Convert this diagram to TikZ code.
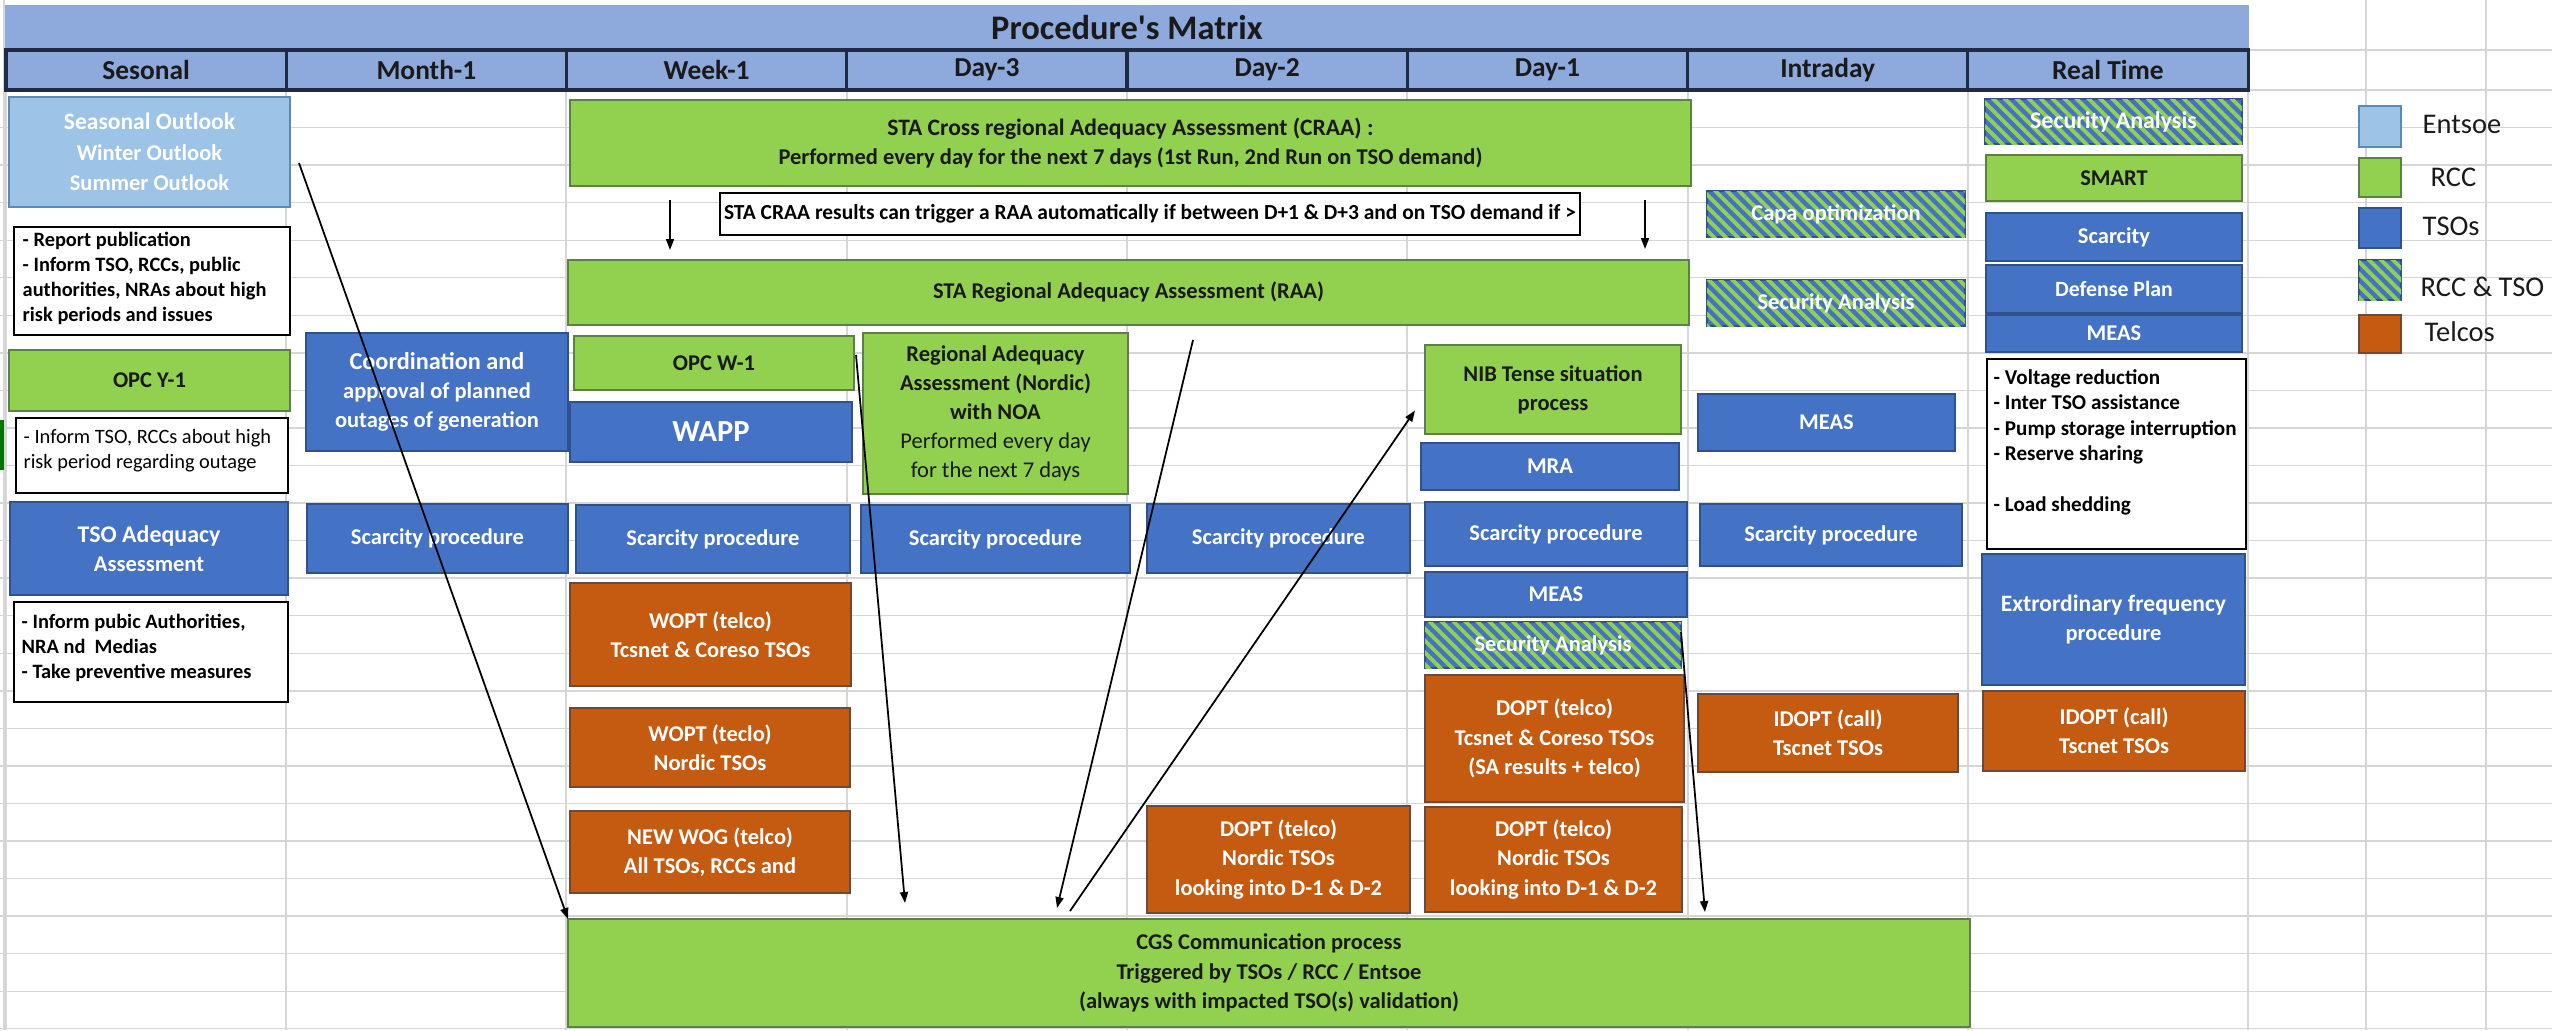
\documentclass[tikz,border=0pt]{standalone}
\usepackage{fontspec}
\setmainfont{Carlito}
\usetikzlibrary{calc,arrows.meta,patterns.meta}

\definecolor{bandblue}{HTML}{8EA9DB}
\definecolor{bandline}{HTML}{1F2A44}
\definecolor{gridgrey}{HTML}{D6D6D6}
\definecolor{entsoefill}{HTML}{9DC3E6}
\definecolor{entsoeedge}{HTML}{5A8AB8}
\definecolor{rccfill}{HTML}{92D050}
\definecolor{rccedge}{HTML}{5E7F45}
\definecolor{tsofill}{HTML}{4472C4}
\definecolor{tsoedge}{HTML}{2F528F}
\definecolor{telcofill}{HTML}{C55A11}
\definecolor{telcoedge}{HTML}{6E4A36}
\definecolor{inktext}{HTML}{1A1A1A}

\newcommand\procfont{\bfseries\fontsize{6.4}{8.3}\selectfont}
\newcommand\memofont{\bfseries\fontsize{5.8}{7.1}\selectfont}
\newcommand\sz[1]{\fontsize{#1}{8.3}\selectfont}

% #1 style, #2 name, #3 left, #4 top, #5 right, #6 bottom, #7 text
\newcommand\procbox[7]{%
  \node[#1, minimum width={(#5-#3)*0.01cm}, minimum height={(#6-#4)*0.01cm}]
    (#2) at ({(#3+#5)/2},{(#4+#6)/2}) {#7};}

\tikzset{
  base/.style={rectangle, inner sep=0pt, outer sep=0pt, align=center, line width=0.5pt, font=\procfont},
  entsoe/.style={base, fill=entsoefill, draw=entsoeedge, text=white},
  rcc/.style={base, fill=rccfill, draw=rccedge, text=inktext},
  tso/.style={base, fill=tsofill, draw=tsoedge, text=white},
  telco/.style={base, fill=telcofill, draw=telcoedge, text=white},
  shared/.style={base, fill=tsofill, draw=tsoedge, text=white,
    postaction={pattern={Lines[angle=-45,distance=2.4pt,line width=1.1pt]}, pattern color=rccfill}},
  memo/.style={base, fill=white, draw=black, line width=0.7pt, font=\memofont, text=black},
  memotext/.style={inner sep=0pt, align=left, font=\memofont, text=black, anchor=west},
  keylabel/.style={inner sep=0pt, anchor=west, text=inktext, font=\fontsize{8.1}{9}\selectfont},
  hdrcell/.style={rectangle, inner sep=0pt, fill=bandblue, draw=bandline, line width=0.9pt,
    minimum width=2.8025cm, minimum height=0.4cm, font=\bfseries\fontsize{7.8}{9}\selectfont, text=inktext},
  flow/.style={-{Triangle[length=1.1mm,width=0.8mm]}, line width=0.5pt, black},
  gridline/.style={draw=gridgrey, line width=0.4pt},
}

\begin{document}
\begin{tikzpicture}[x=0.01cm, y=-0.01cm]
\useasboundingbox (0,0) rectangle (2552,1030);
\fill[white] (0,0) rectangle (2552,1030);

% spreadsheet grid
\foreach \k in {1,...,25}
  \draw[gridline] (0,{90+37.55*\k}) -- (2552,{90+37.55*\k});
\draw[gridline] (2248,50) -- (2552,50);
\draw[gridline] (2248,90) -- (2552,90);
\foreach \x in {6,286,566,847,1127,1407,1688,1968,2248}
  \draw[gridline] (\x,90) -- (\x,1030);
\draw[gridline] (4,0) -- (4,1030);
\foreach \x in {2366,2486}
  \draw[gridline] (\x,0) -- (\x,1030);

% title band and column headers
\node[rectangle, inner sep=0pt, fill=bandblue, minimum width=22.42cm, minimum height=0.45cm,
      font=\bfseries\fontsize{9.8}{11}\selectfont, text=inktext] (title) at (1127,27.5) {Procedure\textquotesingle s Matrix};
\foreach \i/\lab in {0/Sesonal,1/Month-1,2/Week-1,3/Day-3,4/Day-2,5/Day-1,6/Intraday,7/Real Time}
  \node[hdrcell] (hd\i) at ({6+280.25*\i+140.125},70) {\lab};

% selection marker at the sheet edge
\draw[draw=green!45!black, line width=1pt] (2,420) -- (2,470);

% Sesonal
\procbox{entsoe}{seas}{9}{97}{290}{207}{\sz{6.7}Seasonal Outlook\\[0.3pt]Winter Outlook\\[0.3pt]Summer Outlook}
\procbox{memo}{memoA}{14}{227}{290}{335}{}
\node[memotext] (memoAtxt) at ($(memoA.west)+(8,-3)$) {- Report publication\\- Inform TSO, RCCs, public\\authorities, NRAs about high\\risk periods and issues};
\procbox{rcc}{opcy}{9}{350}{290}{411}{OPC Y-1}
\procbox{memo}{memoB}{16}{418}{288}{493}{}
\node[memotext, font=\mdseries\fontsize{5.8}{7.1}\selectfont] (memoBtxt) at ($(memoB.west)+(7,-5)$) {- Inform TSO, RCCs about high\\risk period regarding outage};
\procbox{tso}{tsoaa}{10}{502}{288}{595}{\sz{6.8}TSO Adequacy\\Assessment}
\procbox{memo}{memoC}{14}{602}{288}{702}{}
\node[memotext] (memoCtxt) at ($(memoC.west)+(7,-4.5)$) {- Inform pubic Authorities,\\NRA nd~ Medias\\- Take preventive measures};

% Month-1
\procbox{tso}{coord}{306}{333}{568}{451}{\sz{6.9}Coordination and\\approval of planned\\outages of generation}
\procbox{tso}{scarM}{307}{504}{568}{573}{Scarcity procedure}

% Week-1 and the wide bands
\procbox{rcc}{craa}{570}{100}{1691}{186}{\sz{6.7}STA Cross regional Adequacy Assessment (CRAA) :\\Performed every day for the next 7 days (1st Run, 2nd Run on TSO demand)}
\procbox{memo}{trig}{720}{193}{1580}{235}{\fontsize{6.1}{7.1}\selectfont STA CRAA results can trigger a RAA automatically if between D+1 \& D+3 and on TSO demand if >}
\procbox{rcc}{raa}{568}{260}{1689}{325}{STA Regional Adequacy Assessment (RAA)}
\procbox{rcc}{opcw}{574}{336}{854}{390}{OPC W-1}
\procbox{tso}{wapp}{570}{402}{852}{462}{\fontsize{8.7}{9}\selectfont WAPP}
\procbox{tso}{scarW}{576}{505}{850}{573}{Scarcity procedure}
\procbox{telco}{woptA}{570}{583}{851}{686}{WOPT (telco)\\Tcsnet \& Coreso TSOs}
\procbox{telco}{woptB}{570}{708}{850}{787}{WOPT (teclo)\\Nordic TSOs}
\procbox{telco}{wog}{570}{811}{850}{893}{NEW WOG (telco)\\All TSOs, RCCs and}
\procbox{rcc}{cgs}{568}{919}{1970}{1027}{CGS Communication process\\Triggered by TSOs / RCC / Entsoe\\(always with impacted TSO(s) validation)}

% Day-3
\procbox{rcc}{nordic}{863}{333}{1128}{494}{Regional Adequacy\\Assessment (Nordic)\\with NOA\\{\mdseries Performed every day}\\{\mdseries for the next 7 days}}
\procbox{tso}{scarD3}{861}{505}{1130}{573}{Scarcity procedure}

% Day-2
\procbox{tso}{scarD2}{1147}{504}{1410}{573}{Scarcity procedure}
\procbox{telco}{doptD2}{1147}{806}{1410}{913}{DOPT (telco)\\Nordic TSOs\\looking into D-1 \& D-2}

% Day-1
\procbox{rcc}{nib}{1425}{345}{1681}{434}{NIB Tense situation\\process}
\procbox{tso}{mra}{1421}{443}{1679}{490}{MRA}
\procbox{tso}{scarD1}{1425}{502}{1687}{566}{Scarcity procedure}
\procbox{tso}{measD1}{1425}{572}{1687}{617}{MEAS}
\procbox{shared}{saD1}{1425}{622}{1681}{668}{Security Analysis}
\procbox{telco}{doptA}{1425}{675}{1684}{802}{DOPT (telco)\\Tcsnet \& Coreso TSOs\\(SA results + telco)}
\procbox{telco}{doptB}{1425}{807}{1682}{912}{DOPT (telco)\\Nordic TSOs\\looking into D-1 \& D-2}

% Intraday
\procbox{shared}{capa}{1707}{191}{1965}{237}{Capa optimization}
\procbox{shared}{saID}{1707}{280}{1965}{326}{Security Analysis}
\procbox{tso}{measID}{1698}{394}{1955}{451}{MEAS}
\procbox{tso}{scarID}{1700}{504}{1962}{566}{Scarcity procedure}
\procbox{telco}{idoptID}{1698}{694}{1958}{772}{IDOPT (call)\\Tscnet TSOs}

% Real Time
\procbox{shared}{saRT}{1985}{99}{2242}{144}{\sz{6.8}Security Analysis}
\procbox{rcc}{smart}{1986}{155}{2242}{201}{SMART}
\procbox{tso}{scarRT}{1986}{213}{2242}{261}{Scarcity}
\procbox{tso}{defense}{1986}{265}{2242}{313}{\sz{6.2}Defense Plan}
\procbox{tso}{measRT}{1986}{315}{2242}{352}{MEAS}
\procbox{memo}{memoD}{1987}{359}{2246}{549}{}
\node[memotext, anchor=north west, font=\bfseries\fontsize{6}{7.2}\selectfont] (memoDtxt) at ($(memoD.north west)+(6,10)$) {- Voltage reduction\\- Inter TSO assistance\\- Pump storage interruption\\- Reserve sharing\\[7.2pt]- Load shedding};
\procbox{tso}{extra}{1982}{554}{2245}{685}{\sz{6.7}Extrordinary frequency\\procedure}
\procbox{telco}{idoptRT}{1983}{691}{2245}{771}{IDOPT (call)\\Tscnet TSOs}

% legend
\procbox{entsoe}{keyE}{2359}{106}{2401}{147}{}
\procbox{rcc}{keyR}{2359}{158}{2401}{197}{}
\procbox{tso}{keyT}{2359}{208}{2401}{248}{}
\procbox{shared}{keyS}{2359}{260}{2401}{300}{}
\procbox{telco}{keyC}{2359}{315}{2401}{353}{}
\node[keylabel] (keyElab) at ($(keyE.east)+(21,-2)$) {Entsoe};
\node[keylabel] (keyRlab) at ($(keyR.east)+(29,0)$) {RCC};
\node[keylabel] (keyTlab) at ($(keyT.east)+(21,-2)$) {TSOs};
\node[keylabel] (keySlab) at ($(keyS.east)+(19,7)$) {RCC \& TSO};
\node[keylabel] (keyClab) at ($(keyC.east)+(23,-2)$) {Telcos};

% connectors
\draw[flow] ($(craa.south west)+(100,14)$) -- ($(raa.north west)+(102,-10)$);
\draw[flow] ($(craa.south west)+(1075,14)$) -- ($(raa.north west)+(1077,-11)$);
\draw[flow] ($(seas.north east)+(9,66)$) -- (cgs.north west);
\draw[flow] ($(opcw.north east)+(2,19)$) -- ($(cgs.north west)+(337,-16)$);
\draw[flow] ($(raa.south west)+(625,15)$) -- ($(cgs.north west)+(489,-11)$);
\draw[flow] ($(cgs.north west)+(502,-8)$) -- ($(nib.west)+(-10,21)$);
\draw[flow] ($(saD1.north east)+(0,10)$) -- ($(cgs.north west)+(1137,-7)$);
\end{tikzpicture}
\end{document}
